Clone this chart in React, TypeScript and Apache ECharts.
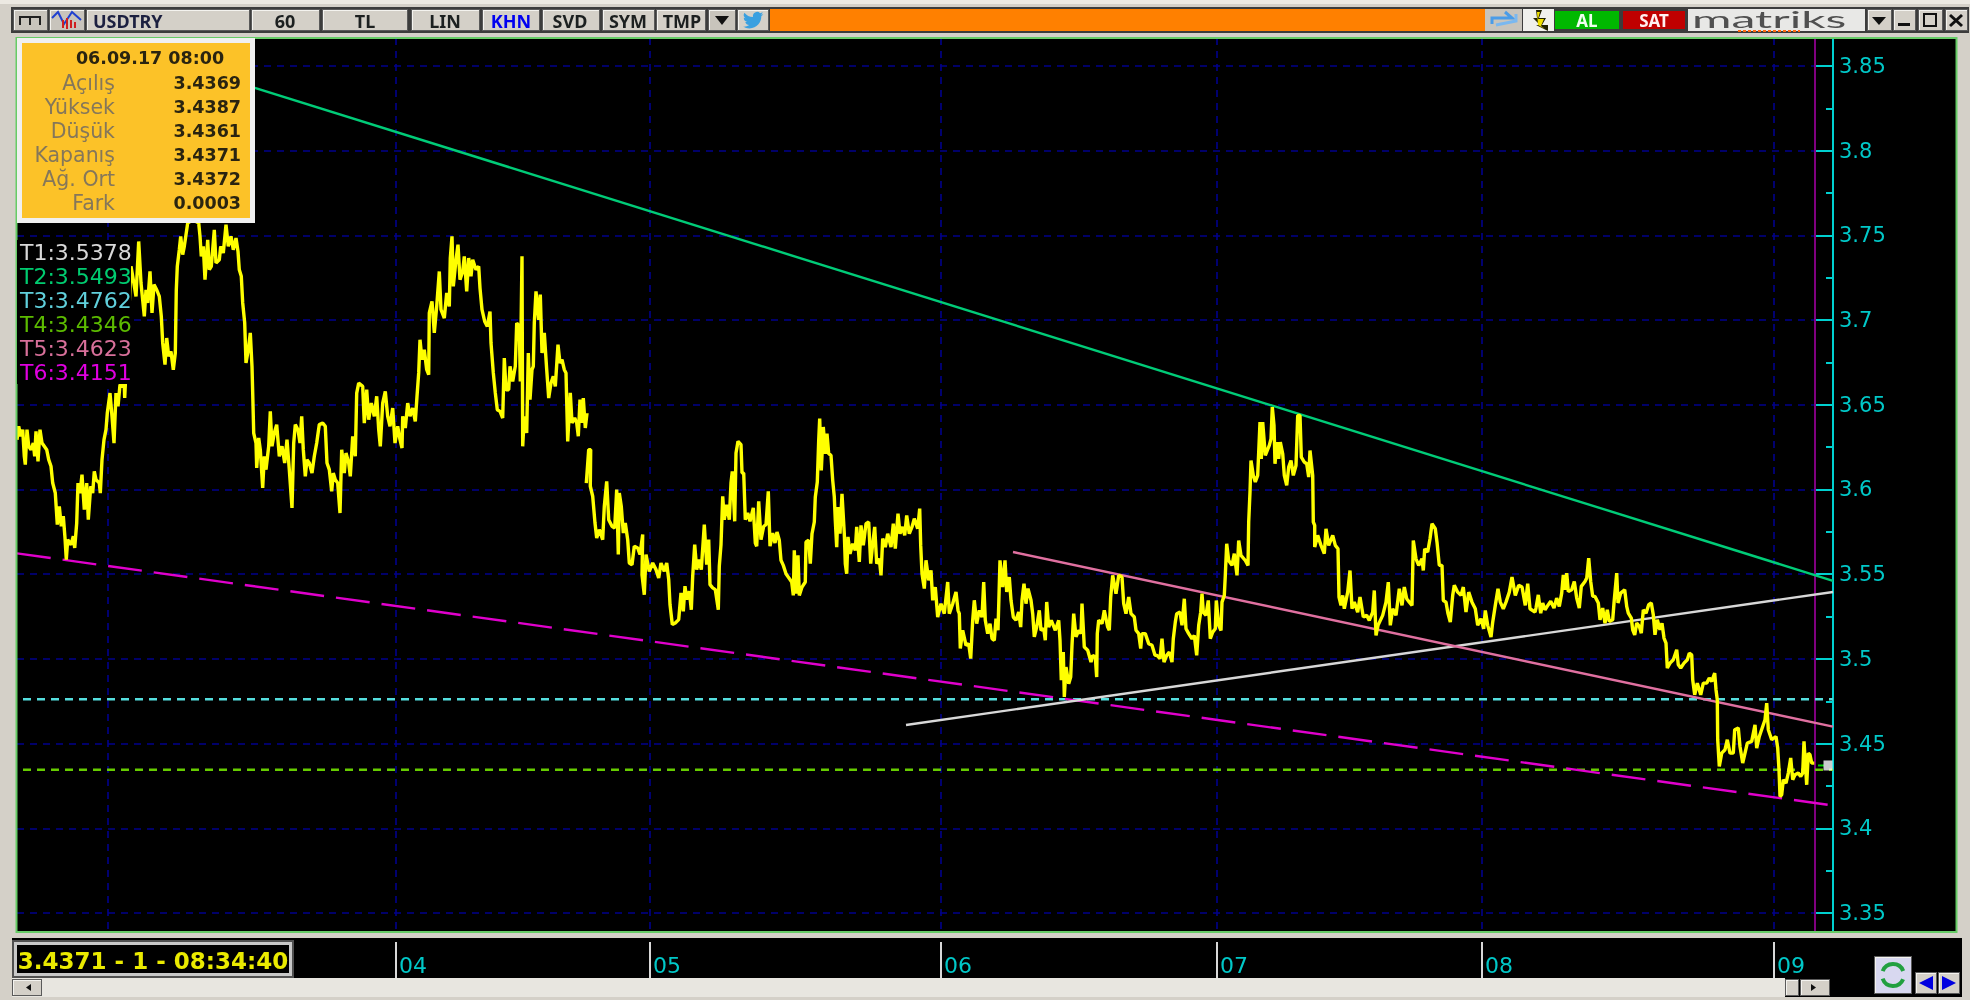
import React, { useEffect, useRef } from "react";
import * as echarts from "echarts";

type P = [number, number | null];

const symbol = "USDTRY";
const dayTicks = [108, 396, 650, 941, 1217, 1482, 1774];
const dayLabels: Record<number, string> = { 396: "04", 650: "05", 941: "06", 1217: "07", 1482: "08", 1774: "09" };
const majorTicks = [3.35, 3.4, 3.45, 3.5, 3.55, 3.6, 3.65, 3.7, 3.75, 3.8, 3.85];
const minorTicks = [3.375, 3.425, 3.475, 3.525, 3.575, 3.625, 3.675, 3.725, 3.775, 3.825];
const infoDate = "06.09.17 08:00";
const infoRows = [["Açılış", "3.4369"], ["Yüksek", "3.4387"], ["Düşük", "3.4361"], ["Kapanış", "3.4371"], ["Ağ. Ort", "3.4372"], ["Fark", "0.0003"]];
const trendLabels = [["T1:3.5378", "#d8d8d8"], ["T2:3.5493", "#00cc70"], ["T3:3.4762", "#60d0dc"], ["T4:3.4346", "#5cbb00"], ["T5:3.4623", "#d8709a"], ["T6:3.4151", "#e000e0"]];
const statusText = "3.4371 - 1 - 08:34:40";
const toolbarButtons = [["60", 251, 69, 285], ["TL", 322, 86, 365], ["LIN", 411, 69, 445], ["KHN", 482, 58, 511], ["SVD", 542, 58, 570], ["SYM", 602, 53, 628], ["TMP", 656, 50, 682]];

const trendT1: P[] = [[906, 3.461], [1833, 3.5395]];
const trendT2: P[] = [[250, 3.838], [1833, 3.5461]];
const trendT3: P[] = [[23, 3.4762], [1833, 3.4762]];
const trendT4: P[] = [[23, 3.4346], [1833, 3.4346]];
const trendT5: P[] = [[1013, 3.5631], [1833, 3.46]];
const trendT6: P[] = [[17, 3.5623], [1833, 3.4135]];
const lastPrice = 3.4371;
const cursorBar = 1815;

const priceDay3: P[] = [[17,3.6294],[18.7,3.6373],[20.7,3.6314],[22.7,3.6353],[24.3,3.6196],[25.3,3.6147],[27,3.6353],[28.7,3.6255],[31,3.6235],[33.3,3.6274],[34.7,3.6196],[36,3.6343],[38,3.6166],[40,3.6353],[42,3.6274],[44.3,3.6255],[46.7,3.6235],[48.7,3.6176],[51,3.6137],[52.7,3.6038],[55.3,3.5979],[57.3,3.5793],[59.3,3.59],[61.3,3.5783],[63.3,3.5842],[65,3.5714],[66.3,3.5586],[67.7,3.5704],[71,3.5674],[73.3,3.5724],[74.7,3.5655],[76.7,3.5802],[78,3.6038],[80,3.5979],[82,3.6088],[84.3,3.5881],[86.7,3.6038],[88.3,3.5822],[90.7,3.6019],[92.7,3.5979],[94.3,3.6107],[96,3.6058],[99.3,3.6038],[100.3,3.5979],[102,3.6176],[104,3.6294],[106,3.6353],[107.3,3.6451],[110,3.6569],[112,3.6432],[114,3.6274],[116,3.6569],[118,3.6491],[120,3.6619],[124.3,3.6609],[124.7,3.654],[131,3.7317],[133.3,3.7238],[136,3.714],[138.7,3.7464],[141,3.7219],[144.3,3.7022],[146,3.7179],[147.7,3.7101],[150,3.7287],[152,3.7042],[154,3.7209],[156.7,3.7179],[159.3,3.714],[161.3,3.7022],[162.7,3.6865],[165,3.6737],[166.7,3.6894],[168.7,3.6786],[171,3.6815],[173.3,3.6707],[175.3,3.6805],[176.3,3.7179],[177.3,3.7317],[179.3,3.7415],[180.7,3.7494],[182.7,3.7386],[184.3,3.7435],[187.7,3.7573],[192.7,3.7592],[198.7,3.7573],[200,3.7494],[201.3,3.7376],[203.3,3.7435],[205,3.7238],[207.7,3.7474],[209.3,3.7297],[211.3,3.7317],[214.3,3.7533],[216,3.7337],[219.3,3.7356],[220.7,3.7435],[223.3,3.7396],[226,3.7563],[228.3,3.7435],[231,3.7494],[233.3,3.7415],[236,3.7484],[238,3.7405],[239.3,3.7297],[241.3,3.7258],[242.7,3.7101],[244.7,3.6983],[246,3.6747],[248.3,3.6825],[250.3,3.6924],[252,3.6727],[253,3.65],[253.7,3.6333],[256,3.6274],[256.7,3.6127],[258.7,3.6304],[260.3,3.6235],[262.7,3.6009],[264.3,3.6196],[266,3.6117],[268.7,3.6255],[270.3,3.6461],[272,3.6255],[274.3,3.6333],[276.7,3.6383],[279.3,3.6196],[282,3.6255],[284.7,3.6156],[287,3.6294],[289.3,3.6117],[292,3.5891],[293.7,3.6274],[295.3,3.6383],[298,3.6353],[300,3.6274],[301.7,3.6432],[303.3,3.6235],[305.3,3.6078],[307,3.6176],[309.3,3.6156],[312,3.6097],[314.3,3.6196],[316.7,3.6274],[319.3,3.6383],[322.7,3.6392],[325.3,3.6373],[327,3.6156],[329.3,3.6117],[331.7,3.5989],[333.3,3.6097],[335.3,3.6058],[337.7,3.6038],[340,3.5861],[341.7,3.6235],[344.3,3.6097],[346,3.6215],[348.7,3.6156],[350.3,3.6078],[352.7,3.6314],[355.3,3.6196],[356.7,3.6569],[358.7,3.6628],[362.7,3.6609],[364.3,3.6392],[366.7,3.6589],[368.7,3.6412],[371.3,3.651],[374.3,3.6432],[376.7,3.655],[378.7,3.6353],[380.3,3.6255],[382.7,3.651],[385.3,3.6579],[387.7,3.6432],[390,3.6373],[392.7,3.6481],[395,3.6274]];

const priceDay4: P[] = [[397.7,3.6373],[400,3.6294],[402,3.6245],[402.7,3.6432],[405.3,3.6363],[407.7,3.651],[410,3.6432],[412.7,3.6481],[415.3,3.6402],[417,3.655],[418.7,3.6688],[420,3.6884],[422,3.6766],[424.3,3.6825],[426.7,3.6707],[428.7,3.6678],[429.3,3.7042],[432,3.711],[434.3,3.6924],[436.7,3.7081],[439.3,3.7287],[441,3.7061],[444.3,3.7012],[446.7,3.716],[449.3,3.7081],[450.3,3.7366],[452,3.7494],[453.3,3.7199],[456,3.7356],[458,3.7445],[460,3.7238],[462.7,3.7287],[464.3,3.7376],[466.7,3.7169],[468.7,3.7366],[471,3.7258],[472.7,3.7356],[476,3.7297],[478.7,3.7317],[480,3.7189],[482,3.7061],[484.7,3.6992],[487.3,3.6963],[490,3.7051],[491,3.6865],[493.3,3.6688],[495.3,3.657],[497.3,3.6471],[500,3.6461],[502.7,3.6422],[504.3,3.6776],[506,3.6589],[508.7,3.6589],[510,3.6727],[512.7,3.6638],[515.3,3.6727],[516.7,3.6983],[519.3,3.6963],[520.3,3.6638],[522,3.7376],[522.7,3.6255],[524.3,3.6432],[526.7,3.6333],[528.3,3.6806],[530,3.653],[532,3.6707],[533.3,3.6727],[534.3,3.6983],[536,3.7169],[538.7,3.7002],[540.3,3.715],[542,3.6806],[544.3,3.6924],[546.7,3.6707],[548.7,3.654],[551,3.6628],[553.3,3.6668],[555.3,3.6609],[558,3.6855],[560,3.6746],[562,3.6766],[564.3,3.6707],[566,3.6688],[567.7,3.6284],[570.3,3.657],[572,3.6393],[574.7,3.6422],[576.7,3.6393],[578.3,3.6314],[580,3.653],[582,3.6393],[583.3,3.654],[585.3,3.6363],[587,3.6451],[587.5,null],[586.3,3.6038],[588.7,3.6235],[590.7,3.6235],[590.3,3.6019],[592.7,3.596],[595,3.5802],[596.7,3.5714],[599.3,3.5763],[602.7,3.5704],[604.3,3.59],[606.7,3.6048],[608.7,3.5822],[612,3.5783],[614.7,3.5773],[616.7,3.5999],[618.3,3.5616],[619.3,3.5979],[621.3,3.59],[623.3,3.5743],[625.3,3.5802],[627.7,3.5704],[629.3,3.5566],[632,3.5556],[634.3,3.5665],[637.7,3.5655],[640,3.5616],[642.7,3.5734],[642,3.5497],[644.3,3.5379],[646,3.5616]];

const priceDay5: P[] = [[649.3,3.5517],[652.7,3.5566],[656,3.5527],[658.7,3.5478],[661,3.5566],[664.3,3.5517],[666.7,3.5566],[668.7,3.5468],[670,3.5321],[672.3,3.5203],[675.3,3.5212],[678.7,3.5232],[681,3.5389],[683.3,3.5281],[685,3.5429],[686.7,3.535],[689.3,3.5399],[691.3,3.529],[692.7,3.5488],[694.7,3.5675],[696.7,3.5527],[698.7,3.5586],[701.3,3.5527],[704.3,3.5793],[706.7,3.5556],[708.7,3.5704],[710,3.5438],[712.7,3.5419],[715.3,3.5409],[718.3,3.529],[719.3,3.5547],[721,3.5675],[722.7,3.596],[724.3,3.5822],[726.7,3.591],[729.3,3.5822],[731,3.6038],[732.3,3.6107],[734.7,3.5812],[736,3.6215],[738,3.6284],[741,3.6265],[742,3.6097],[743.7,3.6097],[745.3,3.5822],[747.7,3.5861],[750,3.5812],[753.3,3.5891],[755.3,3.5684],[756.7,3.5665],[758.7,3.593],[761,3.5704],[763.7,3.5783],[766,3.5793],[768.3,3.5989],[770,3.5665],[772.7,3.5743],[775,3.5684],[777,3.5749],[779.3,3.57],[781,3.5582],[783.3,3.5552],[786,3.5503],[789.3,3.5474],[791.7,3.5454],[793.3,3.5375],[794.3,3.5641],[796,3.5385],[798,3.5611],[799.3,3.5375],[802,3.5424],[805.3,3.5454],[806,3.569],[808.7,3.57],[810.3,3.5562],[812,3.5739],[814.3,3.5808],[815.3,3.5956],[817.3,3.6044],[818.7,3.629],[819.7,3.6418],[821.3,3.6113],[823.3,3.6369],[825.3,3.6211],[827,3.6329],[828.7,3.6211],[831,3.6201],[832.7,3.6054],[834.3,3.5956],[835.3,3.5818],[836.7,3.566],[838,3.5897],[840,3.5739],[842,3.5975],[844.3,3.5739],[845.3,3.5562],[846.7,3.5503],[848,3.572],[850,3.5621],[852.7,3.568],[855.3,3.5641],[856.7,3.5779],[859.3,3.5572],[861,3.5788],[863.3,3.567],[866,3.5798],[868.7,3.5808],[870.7,3.5562],[872.7,3.568],[874.7,3.5779],[876.7,3.5562],[879.3,3.5592],[881,3.5493],[882.7,3.571],[885.3,3.566],[887.7,3.5739],[891,3.566],[893.3,3.5798],[895.3,3.5651],[898,3.5857],[900,3.5739],[902.7,3.5779],[904.7,3.573],[906.7,3.5847],[909.3,3.5739],[912,3.5779],[914.3,3.5828],[917.7,3.5769],[919.7,3.5887],[920.7,3.567],[922,3.5503],[924.3,3.5415],[926,3.5582],[928.7,3.5464],[931,3.5523],[932.7,3.5346],[935.3,3.5424],[937.7,3.5247]];

const priceDay6: P[] = [[941,3.5326],[944.3,3.5267],[947.7,3.5454],[949.3,3.5267],[952.7,3.5326],[956,3.5395],[958,3.5287],[959.3,3.5267],[960.3,3.5061],[962.7,3.5169],[966,3.508],[968.7,3.509],[970.7,3.5002],[972.7,3.5228],[974.3,3.5346],[976.7,3.5208],[979.3,3.5287],[982,3.5247],[983.7,3.5454],[985.3,3.5228],[987.7,3.5149],[990,3.5208],[992,3.512],[994.3,3.511],[996,3.5238],[998,3.5169],[1000,3.5582],[1002.7,3.5424],[1005,3.5582],[1006.7,3.5395],[1009.3,3.5483],[1011,3.5346],[1013.3,3.5247],[1016,3.5228],[1018.7,3.5277],[1020.7,3.5188],[1022,3.5346],[1024,3.5444],[1026,3.5326],[1028,3.5415],[1031,3.5346],[1032.7,3.5267],[1034.3,3.513],[1036.7,3.5188],[1039.3,3.5287],[1041,3.5169],[1043.7,3.5179],[1045.3,3.511],[1046.7,3.5336],[1048.7,3.5188],[1051.3,3.5228],[1055.3,3.5169],[1058.7,3.5228],[1060,3.511],[1061.3,3.4874],[1063.3,3.5041],[1064.3,3.4775],[1066,3.4952],[1068.7,3.4854],[1070.7,3.4893],[1072,3.508],[1073.7,3.5267],[1076,3.513],[1078.7,3.5169],[1081,3.5149],[1082,3.5326],[1084.3,3.507],[1087.7,3.5051],[1091,3.4982],[1092.7,3.5021],[1095.3,3.5011],[1096.7,3.4893],[1097.3,3.5149],[1098.7,3.5228],[1102,3.5208],[1104.3,3.5287],[1107.7,3.5188],[1109.3,3.5169],[1110.7,3.5365],[1112.7,3.5493],[1116,3.5385],[1118.7,3.5493],[1122,3.5483],[1123.7,3.5326],[1126,3.5267],[1128.7,3.5365],[1131,3.5267],[1134.3,3.5247],[1136,3.5169],[1138.7,3.5149],[1140.7,3.5061],[1142,3.5149],[1145.3,3.5149],[1148.7,3.509],[1152,3.508],[1155,3.5021],[1157,3.5021],[1160,3.5001],[1162,3.5119],[1164,3.4981],[1166.7,3.5021],[1169.3,3.504],[1172,3.4981],[1173.3,3.5119],[1175.3,3.5217],[1176.7,3.5267],[1180,3.5276],[1182,3.5198],[1184.3,3.5355],[1186,3.5178],[1188.7,3.5149],[1192,3.5119],[1194.3,3.5139],[1196.7,3.5021],[1198.7,3.5198],[1200.7,3.5276],[1202,3.5385],[1203.3,3.5276],[1206,3.5257],[1208.3,3.5345],[1210.3,3.5119],[1212.7,3.5158],[1215.3,3.5178]];

const priceDay7: P[] = [[1216.3,3.5345],[1218.7,3.5198],[1221,3.5168],[1222,3.5335],[1224.3,3.5375],[1225.3,3.5493],[1226.7,3.568],[1228.7,3.5581],[1232,3.5552],[1234.3,3.5621],[1237,3.5493],[1238.7,3.5699],[1241,3.5611],[1245.3,3.5581],[1248,3.5552],[1248.7,3.5808],[1250,3.5985],[1251,3.6171],[1253.3,3.6083],[1255.3,3.6044],[1257.7,3.6083],[1260,3.6398],[1261.3,3.6181],[1262.7,3.6398],[1265.3,3.6201],[1269.3,3.626],[1271,3.6299],[1272.3,3.6486],[1274,3.6378],[1275,3.6152],[1277,3.628],[1278.7,3.6181],[1280.3,3.628],[1282.7,3.6211],[1284.3,3.6083],[1286.7,3.6024],[1288.7,3.6132],[1291,3.6171],[1293.3,3.6083],[1296,3.6142],[1297.7,3.6437],[1300,3.6437],[1301.3,3.6191],[1304.3,3.6162],[1306.7,3.6152],[1308.7,3.6073],[1310,3.623],[1312.7,3.6083],[1313.3,3.5808],[1314.7,3.5788],[1314.7,3.566],[1317.7,3.5729],[1321,3.567],[1324.3,3.5621],[1326,3.5768],[1328.7,3.567],[1332.7,3.5729],[1335.3,3.567],[1338,3.565],[1339,3.5365],[1341,3.5316],[1342.7,3.5375],[1344.3,3.5296],[1347.7,3.5394],[1350,3.5522],[1352,3.5296],[1354.3,3.5335],[1357.7,3.5276],[1360,3.5365],[1363.3,3.5247],[1366.7,3.5257],[1369.3,3.5227],[1372.7,3.5276],[1374.3,3.5404],[1376,3.5139],[1378,3.5198],[1382.7,3.5257],[1386,3.5335],[1388.3,3.5453],[1390.3,3.5198],[1392.7,3.5296],[1396,3.5257],[1399.3,3.5414],[1402,3.5316],[1404.3,3.5424],[1406.7,3.5355],[1409.3,3.5335],[1412,3.5316],[1413.3,3.5699],[1416,3.5591],[1418.7,3.5552],[1422,3.5591],[1423.3,3.5522],[1424.7,3.565],[1427.7,3.5631],[1430,3.5709],[1432,3.5798],[1435.3,3.5768],[1437,3.5689],[1439.3,3.5552],[1442,3.5552],[1443.3,3.5345],[1446,3.5335],[1448,3.5267],[1450.3,3.5217],[1452.7,3.5375],[1454.3,3.5434],[1457.7,3.5394],[1461,3.5375],[1463.3,3.5424],[1466,3.5276],[1468.7,3.5394],[1472,3.5335],[1475.3,3.5296],[1477.7,3.5198],[1481,3.5237]];

const priceDay8: P[] = [[1483.7,3.5178],[1485.3,3.5286],[1487.7,3.5198],[1491,3.5129],[1492.7,3.5217],[1495.3,3.5316],[1498,3.5414],[1500.3,3.5335],[1503.3,3.5296],[1506,3.5335],[1509.3,3.5394],[1512,3.5483],[1515.3,3.5375],[1518.7,3.5434],[1522,3.5424],[1525.3,3.5316],[1527.7,3.5444],[1530,3.5296],[1535,3.5276],[1536,3.53],[1538.3,3.5378],[1540.7,3.527],[1542.7,3.533],[1545,3.529],[1548.3,3.532],[1550.7,3.534],[1554,3.53],[1556.7,3.5359],[1559.3,3.531],[1561.7,3.5388],[1563.3,3.5496],[1565.3,3.5408],[1566.7,3.5506],[1568.3,3.5398],[1571.7,3.5408],[1574.3,3.5457],[1576.7,3.5359],[1579.3,3.53],[1581.3,3.5428],[1585,3.5457],[1586.7,3.5477],[1588.7,3.5595],[1590.7,3.5457],[1592.7,3.5369],[1595,3.5369],[1598.3,3.533],[1600,3.5231],[1602.7,3.53],[1605,3.5211],[1607.3,3.529],[1609.3,3.5221],[1612.7,3.5231],[1614,3.533],[1616.7,3.5506],[1618,3.533],[1620.7,3.5388],[1624.7,3.5408],[1626.7,3.531],[1628.3,3.527],[1631.3,3.5241],[1632.7,3.5172],[1634.7,3.5142],[1636.7,3.5211],[1639.3,3.5192],[1641.3,3.5152],[1643.3,3.529],[1646,3.527],[1648.7,3.532],[1651.3,3.533],[1653.3,3.526],[1655,3.5142],[1657.3,3.5231],[1660,3.5172],[1662,3.5211],[1664,3.5123],[1666,3.5093],[1667.3,3.4946],[1670,3.4975],[1673.3,3.4995],[1676.7,3.5054],[1678.3,3.4965],[1680.7,3.4946],[1684,3.4975],[1687.3,3.4995],[1689.3,3.5034],[1691.7,3.5024],[1692.7,3.4877],[1694.7,3.4788],[1697.3,3.4857],[1700.7,3.4788],[1703.3,3.4857],[1706.7,3.4857],[1709.3,3.4887],[1711.7,3.4867],[1714.7,3.4916],[1716,3.4818],[1717.3,3.4759],[1717.7,3.4523],[1719.3,3.4365],[1721.7,3.4444],[1725,3.4464],[1727.3,3.4523],[1730,3.4444],[1733.3,3.4444],[1734.7,3.4582],[1738.3,3.4592],[1740,3.4483],[1742.7,3.4385],[1745,3.4444],[1747.3,3.4503],[1751.7,3.4513],[1755,3.4611],[1756.7,3.4474],[1759.3,3.4542],[1762.7,3.4601],[1765,3.4641],[1766.7,3.4739],[1768.3,3.4582],[1771.7,3.4523]];

const priceDay9: P[] = [[1776,3.4542],[1777.7,3.4474],[1779,3.4346],[1780,3.4188],[1781.7,3.4198],[1783.3,3.4287],[1786,3.4267],[1788.3,3.4326],[1790.7,3.4415],[1792.7,3.4287],[1795,3.4316],[1798.3,3.4326],[1800.7,3.4306],[1802.7,3.4326],[1804,3.4513],[1805.3,3.4385],[1806.7,3.4257],[1808.3,3.4444],[1810,3.4434],[1811.7,3.4385],[1814.3,3.4385]];

const price: P[] = [...priceDay3, ...priceDay4, ...priceDay5, ...priceDay6, ...priceDay7, ...priceDay8, ...priceDay9];

const yMin = 3.3388;
const yMax = 3.8665;
const xMin = 17;
const xMax = 1833;

echarts.graphic.registerShape(
  "bird",
  echarts.graphic.extendPath(
    "M23.95 4.57a10 10 0 0 1-2.82.77 4.96 4.96 0 0 0 2.16-2.72c-.95.55-2 .96-3.12 1.19a4.92 4.92 0 0 0-8.39 4.48A13.98 13.98 0 0 1 1.64 3.16a4.92 4.92 0 0 0 1.52 6.57 4.9 4.9 0 0 1-2.23-.61v.06a4.92 4.92 0 0 0 3.95 4.83 4.9 4.9 0 0 1-2.22.08 4.93 4.93 0 0 0 4.6 3.42A9.87 9.87 0 0 1 0 19.54 13.94 13.94 0 0 0 7.55 21.75c9.05 0 14-7.5 14-14 0-.21 0-.42-.01-.63A10 10 0 0 0 23.95 4.57z",
    {}
  )
);

const R = (x: number, y: number, w: number, h: number, fill: string, z = -10, stroke?: string, lw = 1) => ({
  type: "rect", z, shape: { x, y, width: w, height: h }, style: { fill, stroke, lineWidth: lw },
});
const T = (text: string, x: number, y: number, fill: string, font: string, align = "center", z = 100) => ({
  type: "text", z, x, y, style: { text, fill, font, textAlign: align, textVerticalAlign: "middle", verticalAlign: "middle" },
});
const Tri = (pts: number[][], fill: string, z = -5) => ({ type: "polygon", z, shape: { points: pts }, style: { fill } });
const Btn = (x: number, y: number, w: number, h: number, fill = "#d4d0c8") => [
  R(x, y, w, h, "#5a5a5a", -8),
  R(x + 1, y + 1, w - 2, h - 2, "#f4f3ef", -7),
  R(x + 2, y + 2, w - 3, h - 3, fill, -6),
];

const uiFont = '"Noto Sans"';
const axisFont = '"DejaVu Sans"';

function chromeElements() {
  const els: any[] = [];
  els.push(R(0, 0, 1970, 1000, "#d4d0c8", -12));
  els.push(R(0, 0, 1970, 4, "#ece9e2", -11));
  // toolbar
  els.push(R(11, 7, 1958, 26, "#3c3c3c", -11));
  els.push(...Btn(13, 9, 35, 22, "#c8c4bc"), ...Btn(49, 9, 36, 22, "#c8c4bc"));
  els.push(R(19, 16, 22, 2, "#202020", -4), R(19, 16, 2, 9, "#202020", -4), R(29, 16, 2, 9, "#202020", -4), R(39, 16, 2, 9, "#202020", -4));
  els.push({ type: "polyline", z: -4, shape: { points: [[52, 18], [58, 12], [64, 24], [72, 12], [81, 20]] }, style: { stroke: "#2040d0", lineWidth: 2, fill: "none" } });
  els.push(R(62, 20, 2, 8, "#d02020", -4), R(66, 18, 2, 11, "#d02020", -4), R(70, 20, 2, 8, "#d02020", -4), R(74, 22, 2, 6, "#d02020", -4));
  els.push(...Btn(86, 9, 164, 22));
  els.push(T(symbol, 93, 21, "#1c2040", `bold 18px ${uiFont}`, "left"));
  toolbarButtons.forEach(([t, x, w, cx]) => {
    els.push(...Btn(x as number, 9, w as number, 22));
    els.push(T(t as string, cx as number, 21, t === "KHN" ? "#0000f0" : "#1c2020", `bold 18px ${uiFont}`));
  });
  els.push(...Btn(708, 9, 28, 22, "#c8c4bc"));
  els.push(Tri([[715, 16], [729, 16], [722, 25]], "#101010", -4));
  els.push(...Btn(737, 9, 32, 22, "#d4d0c8"));
  els.push({ type: "bird", z: -4, x: 743, y: 10, scaleX: 0.85, scaleY: 0.85, style: { fill: "#3aa0e0" } });
  els.push(R(770, 9, 715, 22, "#ff8000", -6));
  els.push(R(1485, 9, 37, 22, "#c8c4bc", -6));
  els.push({ type: "polyline", z: -4, shape: { points: [[1492, 24], [1492, 18], [1512, 18], [1505, 12]] }, style: { stroke: "#4a9ce8", lineWidth: 3, fill: "none" } });
  els.push({ type: "polyline", z: -4, shape: { points: [[1516, 14], [1516, 21], [1496, 25]] }, style: { stroke: "#7ab8f0", lineWidth: 3, fill: "none" } });
  els.push(R(1523, 9, 31, 22, "#f0f0ec", -6));
  els.push(Tri([[1536, 10], [1542, 10], [1539, 18], [1546, 18], [1542, 25], [1548, 25], [1548, 31], [1536, 25], [1540, 25], [1533, 18], [1537, 18]], "#202000", -4));
  els.push(Tri([[1537, 12], [1540, 12], [1538, 19], [1544, 19], [1541, 26], [1545, 29], [1538, 25]], "#f0e000", -3));
  els.push(R(1555, 11, 64, 18, "#00b800", -6));
  els.push(T("AL", 1587, 20, "#f0fff0", `bold 17px ${uiFont}`));
  els.push(R(1623, 11, 62, 18, "#c00000", -6));
  els.push(T("SAT", 1654, 20, "#fff0f0", `bold 17px ${uiFont}`));
  els.push(R(1688, 9, 177, 22, "#e8e8e6", -6));
  els.push({ type: "text", z: -4, x: 1692, y: 19, scaleX: 2.0, style: { text: "matriks", fill: "#505050", font: "24px Lato", textVerticalAlign: "middle", verticalAlign: "middle" } });
  els.push({ type: "line", z: -4, shape: { x1: 1738, y1: 31, x2: 1800, y2: 31 }, style: { stroke: "#ff6a10", lineWidth: 2, lineDash: [3, 2] } });
  els.push(...Btn(1867, 9, 25, 22), ...Btn(1893, 9, 23, 22), ...Btn(1918, 9, 25, 22), ...Btn(1945, 9, 23, 22));
  els.push(Tri([[1872, 17], [1886, 17], [1879, 25]], "#101010", -4));
  els.push(R(1898, 23, 12, 3, "#101010", -4));
  els.push(R(1924, 14, 12, 12, "none", -4, "#101010", 2));
  els.push({ type: "line", z: -4, shape: { x1: 1950, y1: 15, x2: 1962, y2: 26 }, style: { stroke: "#101010", lineWidth: 3 } });
  els.push({ type: "line", z: -4, shape: { x1: 1962, y1: 15, x2: 1950, y2: 26 }, style: { stroke: "#101010", lineWidth: 3 } });
  // chart panel
  els.push(R(16, 38, 1941, 894, "#000000", -9));
  // bottom strip
  els.push(R(12, 938, 1950, 40, "#000000", -9));
  els.push(R(12, 978, 1773, 19, "#e8e6e0", -9));
  els.push(R(1785, 978, 177, 19, "#000000", -9));
  els.push(...Btn(12, 979, 30, 17));
  els.push(Tri([[31, 984], [31, 991], [26, 987.5]], "#101010", -4));
  els.push(...Btn(1785, 979, 14, 17));
  els.push(...Btn(1800, 979, 30, 17));
  els.push(Tri([[1811, 984], [1811, 991], [1816, 987.5]], "#101010", -4));
  // refresh + nav
  els.push(...Btn(1874, 956, 38, 38, "#d8d8f0"));
  els.push({ type: "arc", z: -4, shape: { cx: 1893, cy: 975, r: 11, startAngle: 3.5, endAngle: 5.9 }, style: { stroke: "#22a040", lineWidth: 4, fill: "none" } });
  els.push({ type: "arc", z: -4, shape: { cx: 1893, cy: 975, r: 11, startAngle: 0.4, endAngle: 2.8 }, style: { stroke: "#22a040", lineWidth: 4, fill: "none" } });
  els.push(...Btn(1915, 972, 22, 22), ...Btn(1938, 972, 22, 22));
  els.push(Tri([[1933, 976], [1933, 990], [1919, 983]], "#0000e0", -4));
  els.push(Tri([[1942, 976], [1942, 990], [1956, 983]], "#0000e0", -4));
  // foreground: status box
  els.push(R(13, 941, 280, 36, "#c8c8c8", 100, "#505050", 2));
  els.push(R(17, 945, 272, 28, "#000000", 101));
  els.push(T(statusText, 153, 961, "#eaea00", `bold 23px ${axisFont}`, "center", 102));
  // green frame
  els.push(R(16.5, 38, 1940, 894, "none", 90, "#66cc66", 2));
  // info box
  els.push(R(17, 38, 238, 185, "#f0f0f0", 100));
  els.push(R(22, 43, 228, 175, "#fcc228", 101));
  els.push(T(infoDate, 150, 58, "#2a2410", `bold 17.5px ${axisFont}`, "center", 102));
  infoRows.forEach(([l, v], i) => {
    const y = 83 + i * 24;
    els.push(T(l, 115, y, "#85775a", `20.5px ${axisFont}`, "right", 102));
    els.push(T(v, 241, y, "#2a2410", `bold 17.5px ${axisFont}`, "right", 102));
  });
  // trend value list
  els.push(R(17, 240, 114, 144, "#000000", 100));
  trendLabels.forEach(([t, c], i) => {
    els.push(T(t, 20, 252 + i * 24, c, `22px ${axisFont}`, "left", 102));
  });
  return els;
}

const lineSeries = (data: P[], color: string, width: number, dash?: number[]) => ({
  type: "line",
  data,
  showSymbol: false,
  silent: true,
  xAxisIndex: 0,
  yAxisIndex: 0,
  lineStyle: { color, width, type: dash || "solid" },
  z: 3,
});

export default function App() {
  const ref = useRef<HTMLDivElement>(null);
  useEffect(() => {
    document.body.style.margin = "0";
    document.body.style.background = "#ffffff";
    const chart = echarts.init(ref.current!, undefined, { renderer: "svg" });
    chart.setOption({
      animation: false,
      backgroundColor: "transparent",
      grid: { left: xMin, right: 1977 - xMax, top: 38, bottom: 1003 - 932, containLabel: false },
      xAxis: [
        {
          type: "value", min: xMin, max: xMax, position: "bottom",
          axisLine: { show: false }, axisLabel: { show: false },
          axisTick: { show: false, customValues: dayTicks },
          splitLine: { show: true, lineStyle: { color: "#00008c", width: 1.6, type: [7, 6] } },
        },
        {
          type: "value", min: xMin, max: xMax, position: "bottom", offset: 10,
          axisLine: { show: false },
          axisTick: { show: true, customValues: dayTicks.slice(1), length: 36, lineStyle: { color: "#d8d8d8", width: 2 } },
          axisLabel: {
            show: true, customValues: dayTicks.slice(1), margin: 12, align: "left", verticalAlign: "top",
            color: "#00c8c8", fontFamily: axisFont, fontSize: 22, padding: [0, 0, 0, 3],
            formatter: (v: number) => dayLabels[v] || "",
          },
          splitLine: { show: false },
        },
      ],
      yAxis: [
        {
          type: "value", min: yMin, max: yMax, position: "right",
          axisLine: { show: true, lineStyle: { color: "#00d0d0", width: 2 } },
          axisTick: { show: true, inside: true, length: 18, customValues: majorTicks, lineStyle: { color: "#00d0d0", width: 2 } },
          axisLabel: {
            show: true, customValues: majorTicks, color: "#00c8c8", fontFamily: axisFont, fontSize: 21, margin: 6,
            formatter: (v: number) => String(Number(v.toFixed(2))),
          },
          splitLine: { show: true, lineStyle: { color: "#00008c", width: 1.6, type: [7, 6] } },
        },
        {
          type: "value", min: yMin, max: yMax, position: "right",
          axisLine: { show: false }, axisLabel: { show: false },
          axisTick: { show: true, inside: true, length: 7, customValues: minorTicks, lineStyle: { color: "#00d0d0", width: 2 } },
          splitLine: { show: false },
        },
      ],
      series: [
        lineSeries([[cursorBar, yMin], [cursorBar, yMax]], "#800080", 2),
        lineSeries(trendT3, "#55dede", 2.4, [8, 6]),
        lineSeries(trendT4, "#66cc00", 2.4, [8, 6]),
        lineSeries(trendT6, "#e000cc", 2.4, [34, 12]),
        lineSeries(trendT2, "#00cc78", 2.4),
        lineSeries(trendT1, "#d8d8d8", 2.4),
        lineSeries(trendT5, "#e070a0", 2.4),
        lineSeries(price, "#ffff00", 3.4),
        lineSeries([[1818, lastPrice], [1824, lastPrice]], "#00c800", 2),
        {
          type: "scatter", data: [[1828, lastPrice]], symbol: "rect", symbolSize: [9, 10], silent: true,
          itemStyle: { color: "#ffffff" }, z: 4,
        },
      ],
      graphic: { elements: chromeElements() },
    });
    return () => chart.dispose();
  }, []);
  return <div ref={ref} style={{ width: 1977, height: 1003, filter: "blur(0.45px)" }} />;
}
